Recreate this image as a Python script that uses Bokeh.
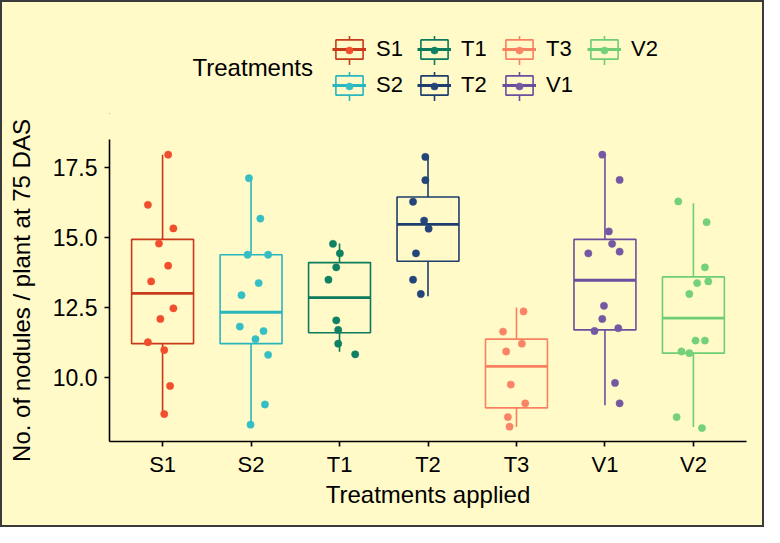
from bokeh.plotting import figure
from bokeh.layouts import column
from bokeh.models import (FactorRange, Range1d, FixedTicker, PrintfTickFormatter,
                          Legend, LegendItem, Label, ColumnDataSource)
from bokeh.embed import file_html
from bokeh.resources import INLINE

# ---------------- data ----------------
treatments = ["S1", "S2", "T1", "T2", "T3", "V1", "V2"]

q1 = [11.22, 11.22, 11.61, 14.16, 8.93, 11.71, 10.88]
median = [13.01, 12.34, 12.86, 15.47, 10.41, 13.48, 12.13]
q3 = [14.94, 14.39, 14.11, 16.45, 11.38, 14.94, 13.60]
lower = [8.71, 8.33, 10.93, 12.91, 8.25, 9.02, 8.25]
upper = [17.96, 17.12, 14.79, 17.88, 12.51, 17.96, 16.23]

s1_values = [17.96, 16.17, 15.33, 14.79, 14.00, 13.44, 12.48, 12.10, 11.27, 10.99, 9.71, 8.71]
s1_jitter = [0.063, -0.166, 0.122, -0.041, 0.063, -0.129, 0.122, -0.025, -0.166, 0.019, 0.085, 0.019]
s2_values = [17.12, 15.68, 14.39, 14.39, 13.38, 12.95, 11.83, 11.67, 11.38, 10.82, 9.05, 8.33]
s2_jitter = [-0.024, 0.105, -0.039, 0.193, 0.086, -0.108, -0.127, 0.141, 0.050, 0.193, 0.157, -0.006]
t1_values = [14.78, 14.44, 13.94, 13.50, 12.05, 11.71, 11.22, 10.84]
t1_jitter = [-0.074, 0.004, -0.037, -0.125, -0.037, -0.015, -0.015, 0.177]
t2_values = [17.88, 17.05, 16.28, 15.61, 15.32, 14.44, 13.50, 12.99]
t2_jitter = [-0.030, -0.030, -0.169, -0.044, 0.007, -0.136, -0.169, -0.081]
t3_values = [12.37, 11.65, 11.22, 10.94, 9.76, 9.09, 8.60, 8.26]
t3_jitter = [0.080, -0.152, 0.061, -0.116, -0.064, 0.099, -0.097, -0.078]
v1_values = [17.96, 17.06, 15.22, 14.78, 14.44, 14.50, 12.57, 12.10, 11.67, 11.77, 9.82, 9.09]
v1_jitter = [-0.030, 0.166, 0.044, 0.081, -0.188, 0.166, -0.011, -0.030, -0.118, 0.151, 0.114, 0.166]
v2_values = [16.29, 15.55, 13.94, 13.38, 13.44, 12.99, 11.33, 11.33, 10.94, 10.88, 8.60, 8.21]
v2_jitter = [-0.171, 0.149, 0.130, 0.042, 0.168, -0.046, 0.024, 0.130, -0.135, -0.046, -0.190, 0.097]

point_values = [s1_values, s2_values, t1_values, t2_values, t3_values, v1_values, v2_values]
point_jitter = [s1_jitter, s2_jitter, t1_jitter, t2_jitter, t3_jitter, v1_jitter, v2_jitter]

y_ticks = [10.0, 12.5, 15.0, 17.5]

box_colors = ["#c93a1a", "#2ab6be", "#0b7a5d", "#1d3d6d", "#fa8062", "#6a4f9f", "#6dce73"]
point_colors = ["#f04e2c", "#36bec5", "#0e8063", "#24457a", "#fb8466", "#7458a2", "#74d17a"]

BG = "#fffac8"
FONT = "Liberation Sans"

# ---------------- main chart ----------------
p = figure(
    x_range=FactorRange(factors=treatments, range_padding=0.1, range_padding_units="absolute"),
    y_range=Range1d(7.73, 18.5),
    width=760, height=411,
    min_border_left=107, min_border_right=16, min_border_top=25, min_border_bottom=84,
    output_backend="svg", toolbar_location=None,
    background_fill_color=BG, border_fill_color=BG, outline_line_color=None,
)

for i, t in enumerate(treatments):
    bc = box_colors[i]
    pc = point_colors[i]
    box_src = ColumnDataSource(dict(x=[t], q1=[q1[i]], q3=[q3[i]]))
    p.segment(x0=[t, t], y0=[q3[i], q1[i]], x1=[t, t], y1=[upper[i], lower[i]],
              line_color=bc, line_width=1.6)
    p.vbar(x="x", width=0.7, bottom="q1", top="q3", source=box_src,
           fill_color=None, line_color=bc, line_width=1.6)
    p.segment(x0=[(t, -0.35)], y0=[median[i]], x1=[(t, 0.35)], y1=[median[i]],
              line_color=bc, line_width=2.8)
    xs = [(t, j) for j in point_jitter[i]]
    p.scatter(x=xs, y=point_values[i], size=7.3, fill_color=pc, line_color=pc, line_width=0.5)

p.xgrid.visible = False
p.ygrid.visible = False
p.xaxis.axis_label = "Treatments applied"
p.yaxis.axis_label = "No. of nodules / plant at 75 DAS"
p.yaxis.ticker = FixedTicker(ticks=y_ticks)
p.yaxis.formatter = PrintfTickFormatter(format="%.1f")
for ax in (p.xaxis[0], p.yaxis[0]):
    ax.axis_label_text_font = FONT
    ax.axis_label_text_font_size = "24px"
    ax.axis_label_text_font_style = "normal"
    ax.axis_label_text_color = "black"
    ax.major_label_text_font = FONT
    ax.major_label_text_font_size = "22px"
    ax.major_label_text_color = "black"
    ax.axis_line_color = "black"
    ax.axis_line_width = 1.6
    ax.major_tick_line_color = "black"
    ax.major_tick_line_width = 1.6
    ax.major_tick_out = 5
    ax.major_tick_in = 0
    ax.minor_tick_line_color = None
p.yaxis.major_label_text_font_size = "23px"
p.xaxis.major_label_standoff = 5
p.xaxis.axis_label_standoff = 1
p.yaxis.major_label_standoff = 7
p.yaxis.axis_label_standoff = 15

# ---------------- legend panel ----------------
lf = figure(width=760, height=112, x_range=Range1d(0, 1), y_range=Range1d(0, 1),
            x_axis_location=None, y_axis_location=None, min_border=0,
            output_backend="svg", toolbar_location=None,
            background_fill_color=BG, border_fill_color=BG, outline_line_color=None)
lf.grid.visible = False

stub_items, key_items, dot_items = [], [], []
for i, t in enumerate(treatments):
    bc = box_colors[i]
    pc = point_colors[i]
    # legend-only renderers, kept outside the visible range
    stub_r = lf.scatter(x=[-5], y=[-5], marker="cross", size=28.8, line_color=bc, line_width=1.6)
    box_r = lf.vbar(x=[-5], bottom=[-6], top=[-5], width=1, fill_color=BG, line_color=bc, line_width=1.6)
    med_r = lf.segment(x0=[-5], y0=[-5], x1=[-4], y1=[-5], line_color=bc, line_width=2.8)
    dot_r = lf.scatter(x=[-5], y=[-5], size=7.2, fill_color=pc, line_color=pc, line_width=0.5)
    stub_items.append(LegendItem(label=" ", renderers=[stub_r]))
    key_items.append(LegendItem(label=t, renderers=[box_r, med_r]))
    dot_items.append(LegendItem(label=" ", renderers=[dot_r]))

row1 = [0, 2, 4, 6]
row2 = [1, 3, 5]
common = dict(orientation="horizontal", padding=0, margin=0,
              background_fill_alpha=0, border_line_color=None)
stub_kw = dict(glyph_width=72, glyph_height=72, label_standoff=0, label_width=2,
               label_height=2, spacing=11, label_text_font_size="1px", **common)
key_kw = dict(glyph_width=34, glyph_height=24, label_standoff=10, label_width=28,
              label_height=24, spacing=13, label_text_font=FONT,
              label_text_font_size="22px", label_text_color="black", **common)
dot_kw = dict(glyph_width=18, glyph_height=18, label_standoff=0, label_width=2,
              label_height=2, spacing=65, label_text_font_size="1px", **common)

# locations are measured from the legend panel's (layout-aligned) frame
lf.add_layout(Legend(items=[stub_items[k] for k in row1], location=(204, 27.8), **stub_kw))
lf.add_layout(Legend(items=[stub_items[k] for k in row2], location=(204, -8.1), **stub_kw))
lf.add_layout(Legend(items=[key_items[k] for k in row1], location=(223, 51.8), **key_kw))
lf.add_layout(Legend(items=[key_items[k] for k in row2], location=(223, 15.9), **key_kw))
lf.add_layout(Legend(items=[dot_items[k] for k in row1], location=(231, 54.8), **dot_kw))
lf.add_layout(Legend(items=[dot_items[k] for k in row2], location=(231, 18.9), **dot_kw))

lf.add_layout(Label(x=83, y=47, x_units="screen", y_units="screen", text="Treatments",
                    text_font=FONT, text_font_size="24px", text_baseline="middle",
                    text_color="black"))

layout = column(lf, p, spacing=0)
layout.styles = {"border": "2px solid #3a3a3a", "background-color": BG}

open("out.html", "w").write(file_html(layout, INLINE))
